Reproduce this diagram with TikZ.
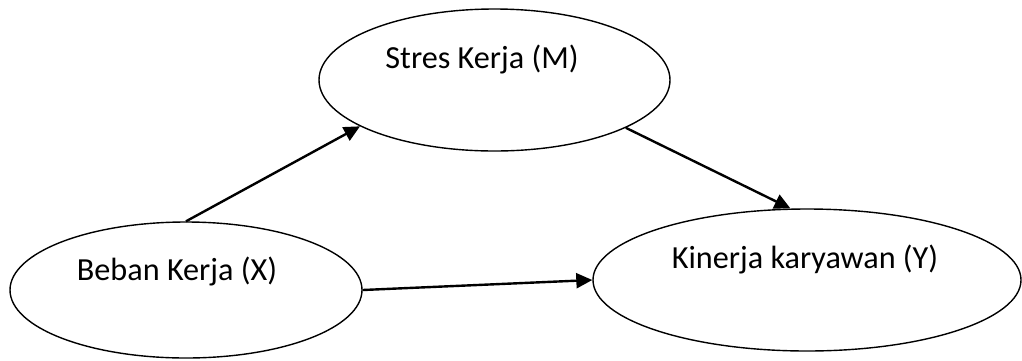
\documentclass[tikz,border=0pt]{standalone}
\usepackage{fontspec}
\setmainfont{Carlito}
\usetikzlibrary{shapes.geometric,arrows.meta}
\begin{document}
\begin{tikzpicture}[x=1pt,y=-1pt,
  var/.style={draw=black,line width=1.4pt,ellipse,inner sep=0pt,fill=white},
  txt/.style={anchor=base,inner sep=0pt,font=\fontsize{32.2}{38}\selectfont},
  path/.style={line width=2.4pt,-{Triangle[length=16pt,width=15pt]}}]
  \useasboundingbox[fill=white] (0,0) rectangle (1022,360);
  % variables
  \node[var,minimum width=351pt,minimum height=142pt] (m) at (494.5,80) {};
  \node[var,minimum width=352pt,minimum height=136pt] (x) at (186,290) {};
  \node[var,minimum width=428pt,minimum height=142pt] (y) at (807,280) {};
  % labels
  \node[txt] (mt) at (482,68) {Stres Kerja (M)};
  \node[txt] (xt) at (177,280) {Beban Kerja (X)};
  \node[txt] (yt) at (805,268) {Kinerja karyawan (Y)};
  % paths
  \draw[path] (x.north) -- (m.199.3);
  \draw[path] (m.340.6) -- (y.103.3);
  \draw[path] (x.-0.5) -- (y.180.8);
\end{tikzpicture}
\end{document}
